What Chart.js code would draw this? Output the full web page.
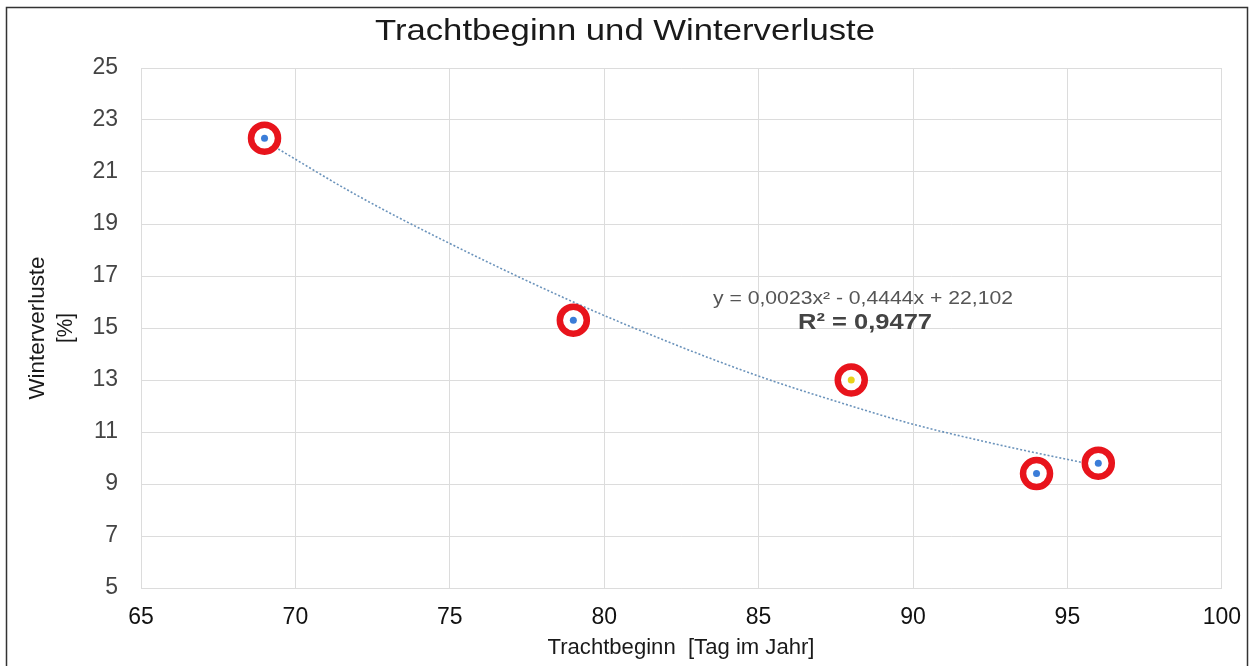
<!DOCTYPE html>
<html><head><meta charset="utf-8">
<script src="https://cdn.jsdelivr.net/npm/chart.js@4/dist/chart.umd.min.js"></script>
<style>html,body{margin:0;padding:0;background:#fff}#wrap{width:1257px;height:666px}</style>
</head><body><div id="wrap"><canvas id="c" width="1257" height="666"></canvas></div>
<script>
const chartTitle = "Trachtbeginn und Winterverluste";
const xTitle = "Trachtbeginn  [Tag im Jahr]";
const yTitle = ["Winterverluste", "[%]"];
const trachtbeginn = [69, 79, 88, 94, 96];
const winterverluste = [22.3, 15.3, 13.0, 9.4, 9.8];
const dotColors = ["#3b7dd8", "#3b7dd8", "#e8d21a", "#3b7dd8", "#3b7dd8"];
const trendX = [69, 72, 75, 79, 82, 85, 88, 90, 93, 96];
const trendY = [22.2, 20.1, 18.25, 16.0, 14.5, 13.15, 12.0, 11.3, 10.45, 9.7];
const equationText = "y = 0,0023x² - 0,4444x + 22,102";
const r2Text = "R² = 0,9477";
const xTicks = [65, 70, 75, 80, 85, 90, 95, 100];
const yTicks = [5, 7, 9, 11, 13, 15, 17, 19, 21, 23, 25];

const FONT = "'Liberation Sans', Arial, sans-serif";

function drawStretched(ctx, text, cx, cy, width, rot) {
  const w = ctx.measureText(text).width;
  ctx.save();
  ctx.translate(cx, cy);
  if (rot) ctx.rotate(rot);
  ctx.scale(width / w, 1);
  ctx.textAlign = 'center';
  ctx.textBaseline = 'middle';
  ctx.fillText(text, 0, 0);
  ctx.restore();
}

const decor = {
  id: 'decor',
  afterDraw(chart) {
    const ctx = chart.ctx;
    ctx.save();
    ctx.strokeStyle = '#333';
    ctx.lineWidth = 1.5;
    ctx.strokeRect(6.5, 7.5, 1241, 660);
    ctx.fillStyle = '#1a1a1a';
    ctx.font = "30px " + FONT;
    drawStretched(ctx, chartTitle, 625, 32, 500);
    ctx.font = "22px " + FONT;
    drawStretched(ctx, xTitle, 681, 648, 267);
    drawStretched(ctx, yTitle[0], 38, 328, 143, -Math.PI / 2);
    drawStretched(ctx, yTitle[1], 66, 328, 30, -Math.PI / 2);
    ctx.fillStyle = '#555';
    ctx.font = "18px " + FONT;
    drawStretched(ctx, equationText, 863, 299, 300);
    ctx.fillStyle = '#444';
    ctx.font = "bold 22px " + FONT;
    drawStretched(ctx, r2Text, 865, 323, 134);
    ctx.restore();
  }
};

new Chart(document.getElementById('c'), {
  type: 'scatter',
  data: {
    datasets: [
      {
        label: 'Trend',
        data: trendX.map((x, i) => ({x, y: trendY[i]})),
        showLine: true,
        borderColor: '#6b93bb',
        borderWidth: 1.6,
        borderDash: [2, 2],
        pointRadius: 0,
        cubicInterpolationMode: 'monotone',
        fill: false,
        order: 3
      },
      {
        label: 'Ringe',
        data: trachtbeginn.map((x, i) => ({x, y: winterverluste[i]})),
        pointRadius: 13.5,
        pointBorderWidth: 6.5,
        pointBorderColor: '#e8141c',
        pointBackgroundColor: '#ffffff',
        order: 2
      },
      {
        label: 'Punkte',
        data: trachtbeginn.map((x, i) => ({x, y: winterverluste[i]})),
        pointRadius: 3.5,
        pointBorderWidth: 0,
        pointBackgroundColor: dotColors,
        order: 1
      }
    ]
  },
  options: {
    responsive: false,
    animation: false,
    devicePixelRatio: 1,
    layout: { padding: { top: 68, right: 35, left: 0, bottom: 0 } },
    plugins: { legend: { display: false }, tooltip: { enabled: false }, title: { display: false } },
    scales: {
      x: {
        type: 'linear',
        min: 65, max: 100,
        afterBuildTicks: s => { s.ticks = xTicks.map(v => ({value: v})); },
        afterFit: s => { s.height = 78; },
        grid: { color: '#dcdcdc', drawTicks: false, lineWidth: 1 },
        border: { color: '#dcdcdc' },
        ticks: { color: '#111', font: { family: FONT, size: 23 }, padding: 16 }
      },
      y: {
        type: 'linear',
        min: 5, max: 25,
        afterBuildTicks: s => { s.ticks = yTicks.map(v => ({value: v})); },
        afterFit: s => { s.width = 141; },
        grid: { color: '#dcdcdc', drawTicks: false, lineWidth: 1 },
        border: { color: '#dcdcdc' },
        ticks: { color: '#444', font: { family: FONT, size: 23 }, padding: 23 }
      }
    }
  },
  plugins: [decor]
});
</script>
</body></html>
